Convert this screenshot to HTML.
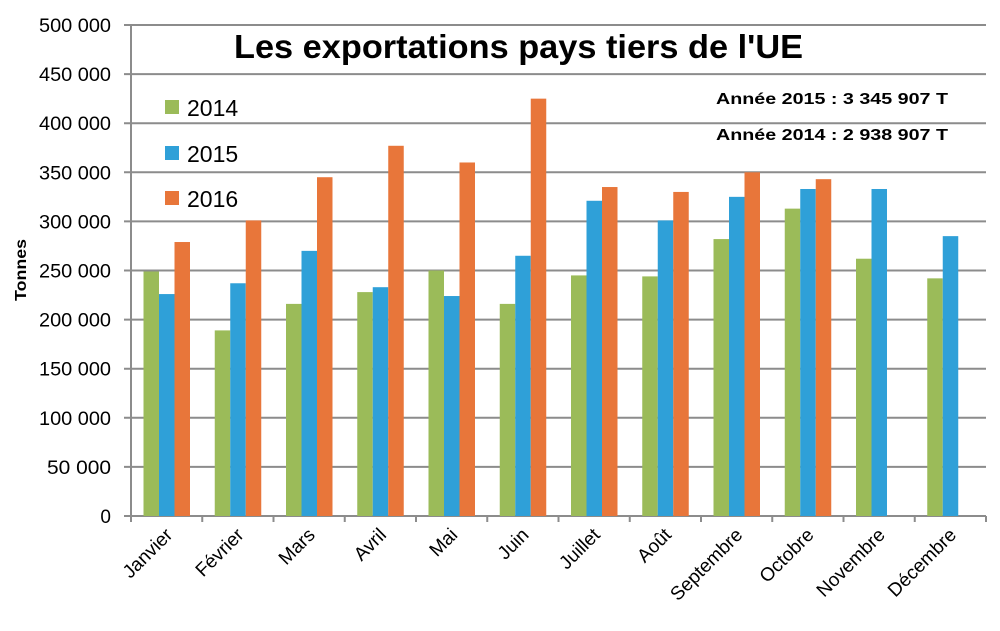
<!DOCTYPE html>
<html><head><meta charset="utf-8"><style>body{margin:0;background:#fff}svg{display:block}</style></head><body>
<svg width="1000" height="631" viewBox="0 0 1000 631" xmlns="http://www.w3.org/2000/svg" font-family="Liberation Sans, sans-serif">
<rect width="1000" height="631" fill="#fff"/>
<g id="grid" stroke="#8c8c8c" stroke-width="2"></g>
<g id="bars"></g>
<g id="labels"></g>
<text x="234" y="58" font-size="33" font-weight="bold" textLength="569" lengthAdjust="spacingAndGlyphs">Les exportations pays tiers de l'UE</text>
<rect x="165" y="100" width="14" height="14" fill="#9bbb59"/>
<text x="187" y="116" font-size="23">2014</text>
<rect x="165" y="146" width="14" height="14" fill="#2fa0d8"/>
<text x="187" y="162" font-size="23">2015</text>
<rect x="165" y="191" width="14" height="14" fill="#e8763a"/>
<text x="187" y="207" font-size="23">2016</text>
<text x="716" y="104" font-size="16" font-weight="bold" textLength="232" lengthAdjust="spacingAndGlyphs">Année 2015 : 3 345 907 T</text>
<text x="716" y="140" font-size="16" font-weight="bold" textLength="232" lengthAdjust="spacingAndGlyphs">Année 2014 : 2 938 907 T</text>
<text transform="translate(26,270) rotate(-90)" text-anchor="middle" font-size="16" font-weight="bold" textLength="62" lengthAdjust="spacingAndGlyphs">Tonnes</text>
<script>
var ns="http://www.w3.org/2000/svg";
function el(p,t,a,txt){var e=document.createElementNS(ns,t);for(var k in a)e.setAttribute(k,a[k]);if(txt!=null)e.textContent=txt;p.appendChild(e);return e;}
var g=document.getElementById('grid'),b=document.getElementById('bars'),l=document.getElementById('labels');
var y0=516,sc=491/500000,L=131,R=986,W=(R-L)/12;
for(var i=0;i<=10;i++){var v=i*50000,y=y0-v*sc;
 el(g,'line',{x1:124,x2:R,y1:y,y2:y});
 var a={x:111,y:y+7,'text-anchor':'end','font-size':'19'};
 if(i>0){a.textLength=(i>=2?72:64);a.lengthAdjust='spacingAndGlyphs';}
 el(l,'text',a,i==0?'0':(v/1000)+' 000');}
el(g,'line',{x1:L,x2:L,y1:25,y2:y0});
for(var i=0;i<=12;i++){var x=L+i*W;el(g,'line',{x1:x,x2:x,y1:y0,y2:y0+6});}
var d=[[249,226,279],[189,237,301],[216,270,345],[228,233,377],[250,224,360],[216,265,425],[245,321,335],[244,301,330],[282,325,350],[313,333,343],[262,333,0],[242,285,0]];
var c=['#9bbb59','#2fa0d8','#e8763a'];
var m=['Janvier','Février','Mars','Avril','Mai','Juin','Juillet','Août','Septembre','Octobre','Novembre','Décembre'];
for(var i=0;i<12;i++){var x0=L+i*W+12.5;
 for(var j=0;j<3;j++){if(!d[i][j])continue;var h=d[i][j]*1000*sc;el(b,'rect',{x:x0+j*15.5,y:y0-h,width:15.5,height:h,fill:c[j]});}
 var cx=L+i*W+W/2+7;
 el(l,'text',{x:cx,y:536,'text-anchor':'end','font-size':'19',transform:'rotate(-45 '+cx+' 536)'},m[i]);}
</script>
</svg>
</body></html>
